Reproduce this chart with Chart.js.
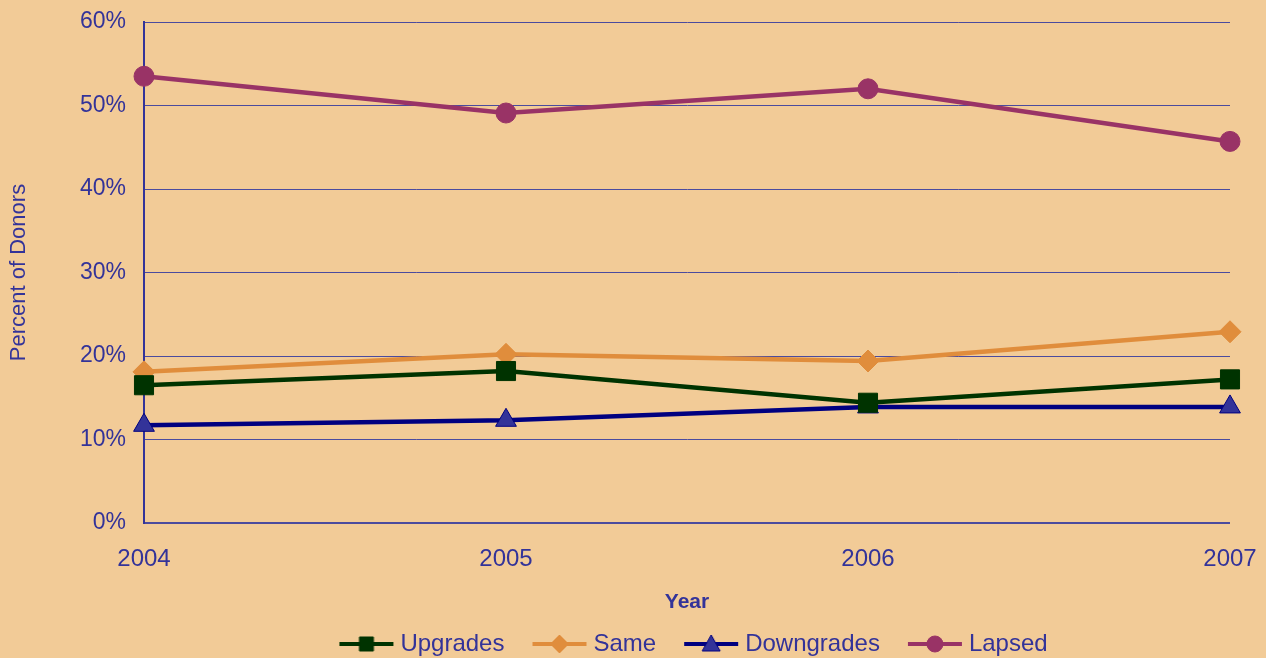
<!DOCTYPE html>
<html>
<head>
<meta charset="utf-8">
<script src="https://cdn.jsdelivr.net/npm/chart.js@4/dist/chart.umd.min.js"></script>
<style>
  html, body { margin: 0; padding: 0; background: #F2CB97; }
  #wrap { width: 1266px; height: 658px; }
</style>
</head>
<body>
<div id="wrap"><canvas id="chart" width="1266" height="658"></canvas></div>
<script>
const years = ['2004', '2005', '2006', '2007'];
const upgrades = [16.5, 18.2, 14.4, 17.2];
const same = [18.1, 20.2, 19.4, 22.9];
const downgrades = [11.7, 12.3, 13.9, 13.9];
const lapsed = [53.5, 49.1, 52.0, 45.7];
const yTicks = [0, 10, 20, 30, 40, 50, 60];

const textColor = '#333399';
const fontFamily = '"Liberation Sans", Arial, sans-serif';

// legend symbol: short line with the marker on it
function legendSymbol(style, line, fill, border) {
    const c = document.createElement('canvas');
    c.width = 56;
    c.height = 24;
    const g = c.getContext('2d');
    g.strokeStyle = line;
    g.lineWidth = 4;
    g.beginPath();
    g.moveTo(1, 12);
    g.lineTo(55, 12);
    g.stroke();
    g.fillStyle = fill;
    g.strokeStyle = border;
    g.lineWidth = 1;
    g.beginPath();
    if (style === 'rect') {
        g.rect(21, 5, 14, 14);
    } else if (style === 'rectRot') {
        g.moveTo(28, 3); g.lineTo(37, 12); g.lineTo(28, 21); g.lineTo(19, 12); g.closePath();
    } else if (style === 'triangle') {
        g.moveTo(28, 3); g.lineTo(37, 19); g.lineTo(19, 19); g.closePath();
    } else {
        g.arc(28, 12, 8, 0, Math.PI * 2);
    }
    g.fill();
    g.stroke();
    return c;
}

function series(label, data, color, style, radius, fill, border) {
    return {
        label: label,
        data: data,
        borderColor: color,
        backgroundColor: fill,
        borderWidth: 4.5,
        tension: 0,
        pointStyle: style,
        pointRadius: radius,
        pointHoverRadius: radius,
        pointBackgroundColor: fill,
        pointBorderColor: border,
        pointBorderWidth: 1,
        legendImage: legendSymbol(style, color, fill, border)
    };
}

const bgPlugin = {
    id: 'bg',
    beforeDraw(chart) {
        const ctx = chart.ctx;
        ctx.save();
        ctx.fillStyle = '#F2CB97';
        ctx.fillRect(0, 0, chart.width, chart.height);
        ctx.restore();
    }
};

// legend row centred under the plot, below the axis title
const legendPlace = {
    id: 'legendPlace',
    afterLayout(chart) {
        const lg = chart.legend;
        if (!lg) { return; }
        const w = lg.right - lg.left;
        lg.left = 696 - w / 2;
        lg.right = lg.left + w;
        lg.top = 599;
        lg.bottom = chart.height;
    }
};

new Chart(document.getElementById('chart'), {
    type: 'line',
    data: {
        labels: years,
        datasets: [
            series('Upgrades', upgrades, '#003300', 'rect', 13.5, '#003300', '#003300'),
            series('Same', same, '#E08D3C', 'rectRot', 11, '#E08D3C', '#E08D3C'),
            series('Downgrades', downgrades, '#000080', 'triangle', 12, '#333399', '#000080'),
            series('Lapsed', lapsed, '#993366', 'circle', 10, '#993366', '#993366')
        ]
    },
    options: {
        responsive: false,
        animation: false,
        layout: { padding: { top: 22, right: 36, bottom: 0, left: 0 } },
        plugins: {
            tooltip: { enabled: false },
            legend: {
                position: 'bottom',
                maxHeight: 40,
                labels: {
                    usePointStyle: true,
                    pointStyleWidth: 44,
                    padding: 33,
                    color: textColor,
                    font: { family: fontFamily, size: 24 },
                    generateLabels(chart) {
                        return chart.data.datasets.map((ds, i) => ({
                            text: ds.label,
                            pointStyle: ds.legendImage,
                            fontColor: textColor,
                            strokeStyle: ds.borderColor,
                            fillStyle: ds.backgroundColor,
                            lineWidth: 0,
                            hidden: false,
                            datasetIndex: i
                        }));
                    }
                }
            }
        },
        scales: {
            x: {
                type: 'category',
                offset: false,
                grid: { display: false, drawTicks: false },
                border: { display: false },
                ticks: {
                    color: textColor,
                    padding: 22,
                    maxRotation: 0,
                    font: { family: fontFamily, size: 24 }
                },
                title: {
                    display: true,
                    text: 'Year',
                    color: textColor,
                    padding: { top: 0, bottom: 3 },
                    font: { family: fontFamily, size: 21, weight: 'bold' }
                },
                afterFit(scale) {
                    scale.height = 95;
                    scale.paddingLeft = 0;
                    scale.paddingRight = 0;
                }
            },
            y: {
                min: 0,
                max: 60,
                afterBuildTicks(scale) {
                    scale.ticks = yTicks.map(v => ({ value: v }));
                },
                grid: {
                    color: '#4B4B9E',
                    lineWidth: ctx => (ctx.tick && ctx.tick.value === 0 ? 2 : 1),
                    drawTicks: false
                },
                border: { display: true, color: '#333399', width: 2 },
                ticks: {
                    color: textColor,
                    padding: 18,
                    font: { family: fontFamily, size: 23 },
                    callback: v => v + '%'
                },
                title: {
                    display: true,
                    text: 'Percent of Donors',
                    color: textColor,
                    padding: { top: 6, bottom: 0 },
                    font: { family: fontFamily, size: 22 }
                },
                afterFit(scale) {
                    scale.width = 144;
                    scale.paddingTop = 0;
                    scale.paddingBottom = 0;
                }
            }
        }
    },
    plugins: [bgPlugin, legendPlace]
});
</script>
</body>
</html>
